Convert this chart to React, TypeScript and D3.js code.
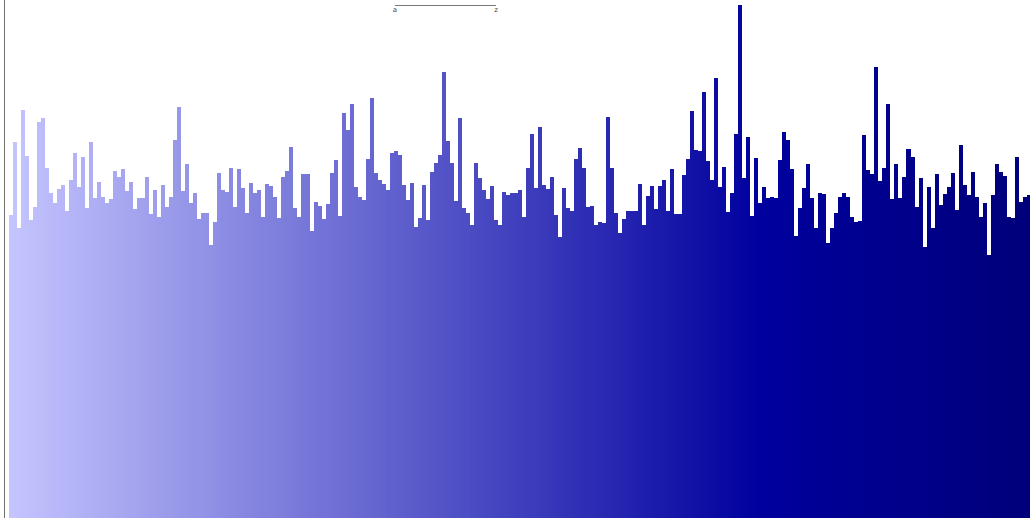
import React from "react";
import * as d3 from "d3";

// Bar tops, expressed as bar heights (units above the baseline)
const tops: number[] = [
  215, 142, 228, 110, 156, 220, 207, 122, 118, 168, 193, 203, 189, 185, 211, 180, 153, 187, 157, 208,
  142, 198, 182, 197, 203, 199, 171, 177, 169, 191, 182, 209, 198, 198, 177, 214, 190, 217, 185, 207,
  197, 140, 107, 191, 164, 203, 193, 219, 213, 213, 245, 222, 173, 190, 192, 168, 207, 169, 188, 213,
  183, 193, 190, 217, 184, 186, 197, 218, 177, 171, 147, 208, 217, 174, 174, 231, 202, 206, 219, 204,
  173, 160, 216, 113, 130, 104, 187, 197, 200, 159, 98, 173, 180, 184, 190, 153, 151, 155, 185, 200,
  183, 227, 218, 185, 220, 172, 163, 155, 72, 141, 163, 201, 118, 208, 213, 225, 163, 178, 190, 199,
  186, 220, 225, 192, 195, 193, 193, 190, 217, 168, 134, 188, 127, 185, 189, 177, 215, 237, 188, 208,
  211, 159, 148, 168, 207, 206, 225, 222, 223, 117, 168, 213, 233, 219, 211, 211, 211, 184, 225, 196,
  186, 209, 186, 180, 211, 169, 214, 214, 175, 159, 111, 150, 151, 92, 161, 180, 78, 187, 167, 212,
  193, 134, 5, 178, 137, 216, 158, 203, 187, 198, 197, 198, 160, 132, 140, 169, 236, 208, 188, 164,
  198, 228, 193, 194, 243, 228, 213, 197, 193, 197, 217, 222, 221, 135, 170, 174, 67, 181, 168, 104,
  199, 164, 198, 177, 149, 157, 207, 178, 247, 187, 228, 174, 205, 194, 187, 173, 210, 145, 185, 195,
  172, 197, 217, 203, 255, 195, 164, 172, 176, 217, 218, 157, 202, 197, 195,
];
const values: number[] = tops.map((t) => 518 - t);
const legendLabels: string[] = ["a", "z"];
const colorStops: string[] = ["#c4c4ff", "#00009e", "#00007a"];

const W = 1030;
const H = 518;

export default function App() {
  const idx = values.map((_, i) => i);
  const x = d3.scaleBand<number>().domain(idx).range([9, 1030.7]).padding(0);
  const y = d3.scaleLinear().domain([0, d3.max(values) as number]).range([H, 5]);
  const n = values.length;
  const color = d3
    .scaleLinear<string>()
    .domain([0, 187, n - 1])
    .range(colorStops)
    .interpolate(d3.interpolateRgb)
    .clamp(true);
  const legend = d3.scalePoint<string>().domain(legendLabels).range([395, 496]);

  return (
    <svg
      width={W}
      height={H}
      style={{ position: "absolute", left: 0, top: 0, display: "block", background: "#fff" }}
    >
      <g shapeRendering="crispEdges">
        {values.map((v, i) => (
          <rect
            key={i}
            x={x(i)}
            y={y(v)}
            width={x.bandwidth()}
            height={H - y(v)}
            fill={color(i)}
          />
        ))}
      </g>
      <line x1={4.5} x2={4.5} y1={0} y2={H} stroke="#707070" strokeWidth={1} />
      <g fontFamily="DejaVu Sans, sans-serif" fontSize={7} fill="#444">
        <line
          x1={legend("a")}
          x2={legend("z")}
          y1={5.5}
          y2={5.5}
          stroke="#777"
          strokeWidth={1}
        />
        {legendLabels.map((l) => (
          <text key={l} x={legend(l)} y={12} textAnchor="middle">
            {l}
          </text>
        ))}
      </g>
    </svg>
  );
}
